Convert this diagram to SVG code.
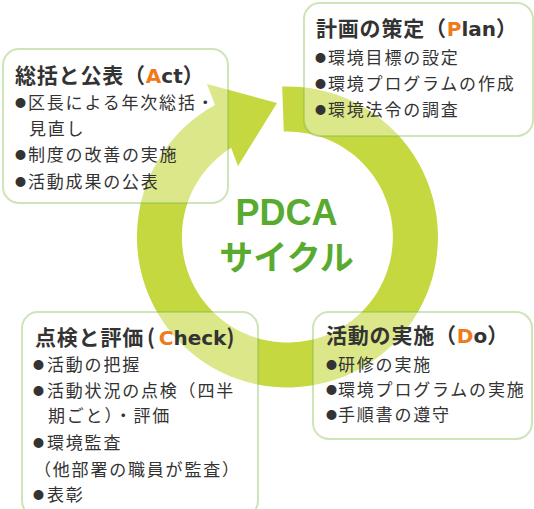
<svg xmlns="http://www.w3.org/2000/svg" width="534" height="509" viewBox="0 0 534 509">
<defs>
<style>
.box{fill:#ffffff;fill-opacity:0.38;stroke:#78b43c;stroke-opacity:0.36;stroke-width:2}
.h{font-family:"Noto Sans CJK JP","Noto Sans",sans-serif;font-size:21px;letter-spacing:0.8px;font-weight:bold;fill:#333333}
.l{font-family:"DejaVu Sans","Liberation Sans",sans-serif;font-size:20px;letter-spacing:0;font-weight:bold}
.t{font-family:"Noto Sans CJK JP","Noto Sans",sans-serif;font-size:17px;letter-spacing:1.8px;fill:#333333}
.o{fill:#ee7a1c}
.dot{font-size:11px;letter-spacing:0}
.big{font-family:"Liberation Sans","Noto Sans",sans-serif;font-size:36px;font-weight:bold;fill:#58ab2f}
.kata{font-family:"Noto Sans CJK JP","Noto Sans",sans-serif;font-size:34px;font-weight:bold;fill:#58ab2f}
</style>
</defs>
<rect width="534" height="509" fill="#ffffff"/>
<g id="connectors">
<path id="cycle-arrow" fill="#c5d83f" d="M282.2,86.6 A150.5,150.5 0 1 1 215.0,105.1 L207,84 L277,103 L238,166 L231.1,147.8 A105.5,105.5 0 1 0 283.8,131.6 Z"/>
</g>
<g id="center">
<text class="big" x="286.5" y="225" text-anchor="middle">PDCA</text>
<text class="kata" x="286.5" y="270" text-anchor="middle">サイクル</text>
</g>
<g id="plan">
<rect class="box" x="304" y="3" width="229" height="133" rx="16"/>
<text class="h" x="316" y="36">計画の策定（<tspan class="l o">P</tspan><tspan class="l">lan</tspan>）</text>
<text class="t" x="315" y="64"><tspan class="dot" dy="-2">●</tspan><tspan x="328" dy="2">環境目標の設定</tspan></text>
<text class="t" x="315" y="90"><tspan class="dot" dy="-2">●</tspan><tspan x="328" dy="2">環境プログラムの作成</tspan></text>
<text class="t" x="315" y="116"><tspan class="dot" dy="-2">●</tspan><tspan x="328" dy="2">環境法令の調査</tspan></text>
</g>
<g id="act">
<rect class="box" x="3" y="49" width="225" height="154" rx="16"/>
<text class="h" x="15" y="83">総括と公表（<tspan class="l o">A</tspan><tspan class="l">ct</tspan>）</text>
<text class="t" x="15" y="109"><tspan class="dot" dy="-2">●</tspan><tspan x="28" dy="2">区長による年次総括・</tspan></text>
<text class="t" x="29" y="135">見直し</text>
<text class="t" x="15" y="161"><tspan class="dot" dy="-2">●</tspan><tspan x="28" dy="2">制度の改善の実施</tspan></text>
<text class="t" x="15" y="188"><tspan class="dot" dy="-2">●</tspan><tspan x="28" dy="2">活動成果の公表</tspan></text>
</g>
<g id="check">
<rect class="box" x="22" y="312" width="236" height="205" rx="16"/>
<text class="h" x="35" y="345">点検と評価<tspan dx="3">(</tspan><tspan class="l o" dx="3">C</tspan><tspan class="l">heck</tspan>)</text>
<text class="t" x="33" y="371"><tspan class="dot" dy="-2">●</tspan><tspan x="47" dy="2">活動の把握</tspan></text>
<text class="t" x="33" y="397"><tspan class="dot" dy="-2">●</tspan><tspan x="47" dy="2">活動状況の点検（四半</tspan></text>
<text class="t" x="48" y="422">期ごと）・評価</text>
<text class="t" x="33" y="449"><tspan class="dot" dy="-2">●</tspan><tspan x="47" dy="2">環境監査</tspan></text>
<text class="t" x="34" y="476">（他部署の職員が監査）</text>
<text class="t" x="33" y="501"><tspan class="dot" dy="-2">●</tspan><tspan x="47" dy="2">表彰</tspan></text>
</g>
<g id="do">
<rect class="box" x="313" y="312" width="219" height="127" rx="16"/>
<text class="h" x="326" y="343">活動の実施（<tspan class="l o">D</tspan><tspan class="l">o</tspan>）</text>
<text class="t" x="326" y="371"><tspan class="dot" dy="-2">●</tspan><tspan x="338" dy="2">研修の実施</tspan></text>
<text class="t" x="326" y="396"><tspan class="dot" dy="-2">●</tspan><tspan x="338" dy="2">環境プログラムの実施</tspan></text>
<text class="t" x="326" y="421"><tspan class="dot" dy="-2">●</tspan><tspan x="338" dy="2">手順書の遵守</tspan></text>
</g>
</svg>
